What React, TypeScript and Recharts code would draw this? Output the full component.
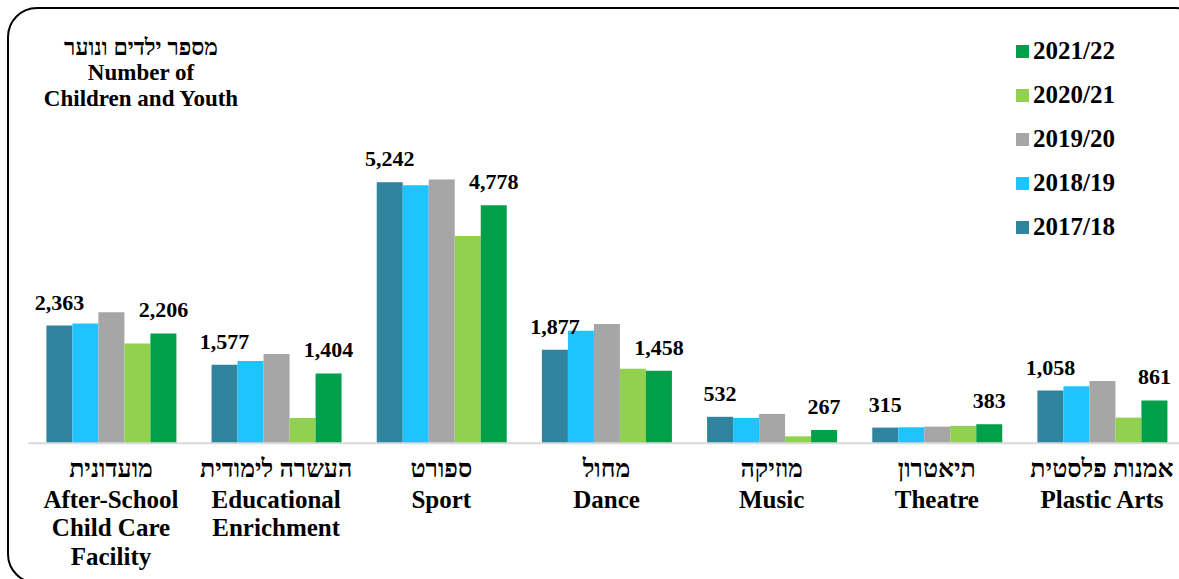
import React from 'react';
import { BarChart, Bar, XAxis, YAxis, LabelList, Legend } from 'recharts';

const hebrewNames = ['מועדונית', 'העשרה לימודית', 'ספורט', 'מחול', 'מוזיקה', 'תיאטרון', 'אמנות פלסטית'];
const englishNames = [
  ['After-School', 'Child Care', 'Facility'],
  ['Educational', 'Enrichment'],
  ['Sport'],
  ['Dance'],
  ['Music'],
  ['Theatre'],
  ['Plastic Arts'],
];

const seriesNames = ['2017/18', '2018/19', '2019/20', '2020/21', '2021/22'];
const y2017 = [2363, 1577, 5242, 1877, 532, 315, 1058];
const y2018 = [2404, 1653, 5180, 2262, 510, 322, 1145];
const y2019 = [2630, 1793, 5295, 2396, 590, 335, 1252];
const y2020 = [2002, 508, 4163, 1499, 140, 350, 516];
const y2021 = [2206, 1404, 4778, 1458, 267, 383, 861];
const colors = ['#31849e', '#1fc3ff', '#a6a6a6', '#92d050', '#00a04a'];

const titleLines = ['מספר ילדים ונוער', 'Number of', 'Children and Youth'];

const data = hebrewNames.map((h, i) => ({
  key: String(i),
  he: h,
  en: englishNames[i],
  s0: y2017[i],
  s1: y2018[i],
  s2: y2019[i],
  s3: y2020[i],
  s4: y2021[i],
}));

const FONT = "'Liberation Serif', 'DejaVu Serif', 'Noto Serif', serif";

const fmt = (v: any) => Number(v).toLocaleString('en-US');

const Tick = (props: any) => {
  const { x, y, payload } = props;
  const d = data[Number(payload.value)];
  return (
    <g>
      <text x={x} y={y + 33.7} textAnchor="middle" style={{ fontFamily: FONT, fontWeight: 700, fontSize: 25 }} fill="#000">
        {d.he}
      </text>
      {d.en.map((l: string, k: number) => (
        <text key={k} x={x} y={y + 64.2 + k * 28.5} textAnchor="middle" style={{ fontFamily: FONT, fontWeight: 700, fontSize: 25 }} fill="#000">
          {l}
        </text>
      ))}
    </g>
  );
};

const LegendContent = () => (
  <div style={{ fontFamily: FONT, fontWeight: 700, fontSize: 25, color: '#000' }}>
    {seriesNames
      .map((n, i) => ({ n, c: colors[i] }))
      .reverse()
      .map((e) => (
        <div key={e.n} style={{ display: 'flex', alignItems: 'center', height: 44 }}>
          <span style={{ display: 'inline-block', width: 13, height: 13, background: e.c, marginRight: 4 }} />
          <span>{e.n}</span>
        </div>
      ))}
  </div>
);

export default function App() {
  return (
    <div style={{ position: 'absolute', left: 0, top: 0, width: 1179, height: 579, overflow: 'hidden', background: '#fff', fontFamily: FONT }}>
      <div
        style={{
          position: 'absolute',
          left: 7,
          top: 7,
          width: 1199,
          height: 577,
          border: '2px solid #000',
          borderRadius: 30,
          boxSizing: 'border-box',
        }}
      />
      <div
        style={{
          position: 'absolute',
          left: 31,
          top: 34.5,
          width: 220,
          textAlign: 'center',
          fontFamily: FONT,
          fontWeight: 700,
          fontSize: 23,
          lineHeight: '25.5px',
          color: '#000',
        }}
      >
        {titleLines.map((t) => (
          <div key={t}>{t}</div>
        ))}
      </div>
      <div style={{ position: 'absolute', left: 0, top: 0 }}>
        <BarChart
          width={1200}
          height={579}
          data={data}
          margin={{ top: 144.5, right: 15.4, bottom: 15.7, left: 28.4 }}
          barGap={0}
          barSize={26}
        >
          <XAxis
            dataKey="key"
            height={120}
            tickLine={false}
            tickSize={0}
            tickMargin={0}
            axisLine={{ stroke: '#d9d9d9', strokeWidth: 2 }}
            tick={<Tick />}
            interval={0}
          />
          <YAxis hide domain={[0, 6000]} />
          <Legend
            layout="vertical"
            align="center"
            verticalAlign="middle"
            content={<LegendContent />}
            wrapperStyle={{ position: 'absolute', left: 1016, top: 29, width: 160 }}
          />
          {['s0', 's1', 's2', 's3', 's4'].map((k, i) => (
            <Bar key={k} dataKey={k} name={seriesNames[i]} fill={colors[i]} isAnimationActive={false}>
              {(i === 0 || i === 4) && (
                <LabelList
                  dataKey={k}
                  position="top"
                  offset={16}
                  formatter={fmt}
                  style={{ fontFamily: FONT, fontWeight: 700, fontSize: 22 }}
                  fill="#000"
                />
              )}
            </Bar>
          ))}
        </BarChart>
      </div>
    </div>
  );
}
